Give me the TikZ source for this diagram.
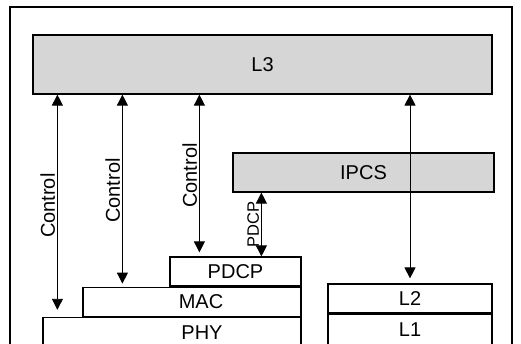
\documentclass[tikz,border=0pt]{standalone}
\usepackage{fontspec}
\setmainfont{Liberation Sans}
\usetikzlibrary{arrows.meta,positioning}

\begin{document}
\begin{tikzpicture}[
  x=1pt, y=-1pt, >={Triangle[length=11pt,width=11pt]},
  txt/.style={font=\fontsize{20}{22}\selectfont},
  layer/.style={draw=black, line width=1.2pt, minimum height=29pt, inner sep=0pt, txt},
  shaded/.style={layer, fill=black!16},
  arrow/.style={<->, line width=0.9pt},
  lbl/.style={rotate=90, anchor=south, inner sep=2pt, txt}
]
\useasboundingbox (0,0) rectangle (521,343);
\clip (0,0) rectangle (521,343);

% outer frame, open at the bottom
\draw[line width=1.2pt] (10,350) -- (10,7) -- (512,7) -- (512,350);

\node[shaded, minimum width=459pt, minimum height=59pt] (l3) at (262.5,64.5) {L3};
\node[shaded, minimum width=261pt, minimum height=39pt] (ipcs) at (363.5,172.5) {IPCS};

% left stack
\node[layer, minimum width=131pt] (pdcp) at (235.5,271.5) {PDCP};
\node[layer, minimum width=218pt, anchor=north east, label={[txt, inner sep=0pt, xshift=9pt]center:MAC}] (mac) at (pdcp.south east) {};
\node[layer, minimum width=258pt, minimum height=33pt, anchor=north east, label={[txt, inner sep=0pt, xshift=30pt, yshift=1pt]center:PHY}] (phy) at (mac.south east) {};

% right stack
\node[layer, minimum width=164pt] (l2) at (410,298.5) {L2};
\node[layer, minimum width=164pt, minimum height=31pt, below=0pt of l2] (l1) {L1};

% control paths
\coordinate (c1) at ([xshift=15pt]phy.north west);
\coordinate (c2) at ([xshift=40pt]mac.north west);
\coordinate (c3) at ([xshift=30pt]pdcp.north west);
\coordinate (c4) at ([xshift=92pt]pdcp.north west);

\draw[arrow, shorten >=7pt] (c1 |- l3.south) -- node[lbl] {Control} (c1);
\draw[arrow, shorten >=3pt] (c2 |- l3.south) -- node[lbl] {Control} (c2);
\draw[arrow, shorten >=4pt] (c3 |- l3.south) -- node[lbl] {Control} (c3);
\draw[arrow] (c4 |- ipcs.south) -- node[lbl, font=\fontsize{16.5}{18}\selectfont] {PDCP} (c4);
\draw[arrow, shorten >=5pt] (l3.south -| l2.north) -- (l2.north);

\end{tikzpicture}
\end{document}
